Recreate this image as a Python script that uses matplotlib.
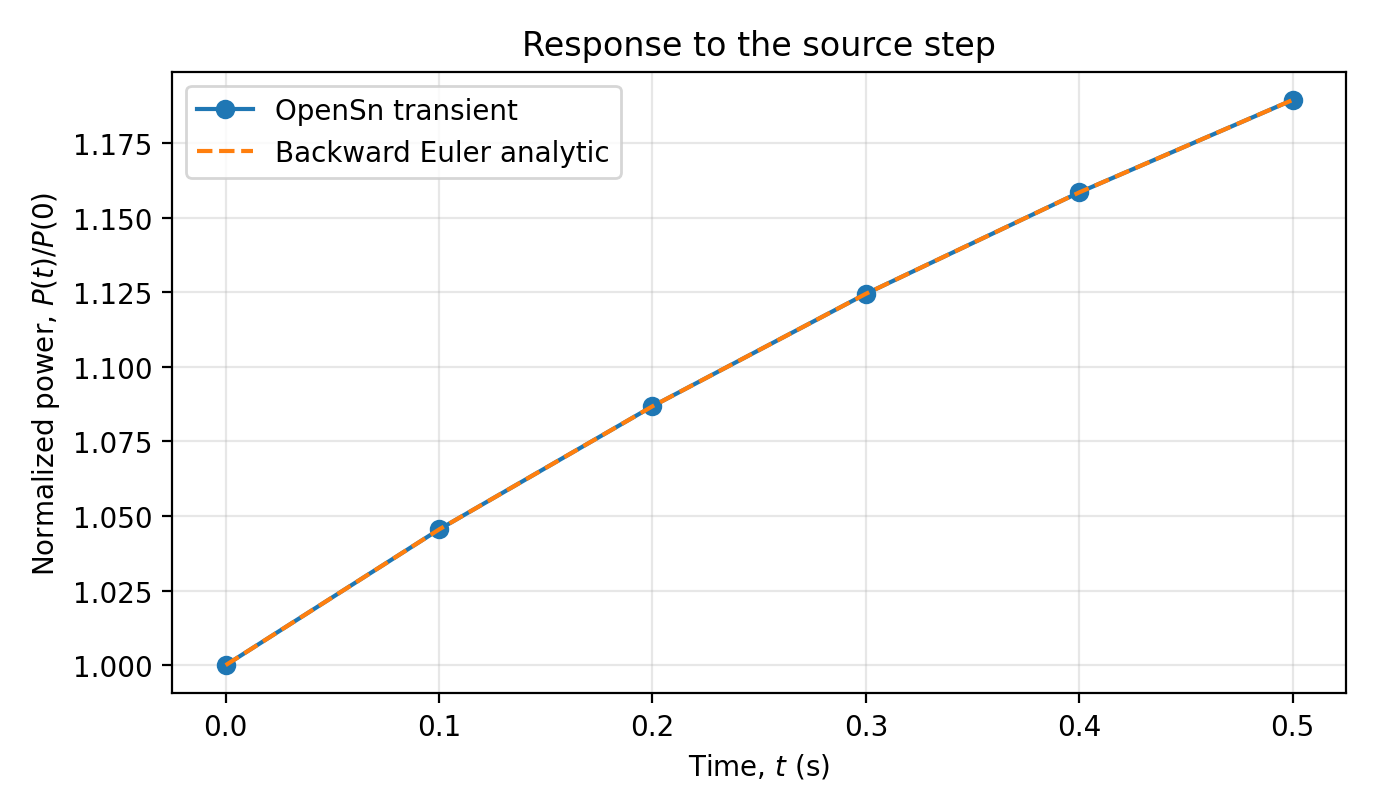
import matplotlib
matplotlib.use("Agg")
import matplotlib.pyplot as plt

t = [0.0, 0.1, 0.2, 0.3, 0.4, 0.5]
p_opensn = [1.0, 1.0455, 1.0868, 1.1245, 1.1585, 1.1895]
p_analytic = [1.0, 1.0455, 1.0868, 1.1245, 1.1585, 1.1895]

fig, ax = plt.subplots(figsize=(6.88, 4.06), dpi=200)
ax.plot(t, p_opensn, "o-", color="#1f77b4", label="OpenSn transient")
ax.plot(t, p_analytic, "--", color="#ff7f0e", label="Backward Euler analytic")
ax.set_xlabel("Time, $t$ (s)")
ax.set_ylabel("Normalized power, $P(t)/P(0)$")
ax.set_title("Response to the source step")
ax.grid(True, alpha=0.3)
ax.legend(loc="upper left")
fig.tight_layout()
fig.savefig("out.png", dpi=200)
